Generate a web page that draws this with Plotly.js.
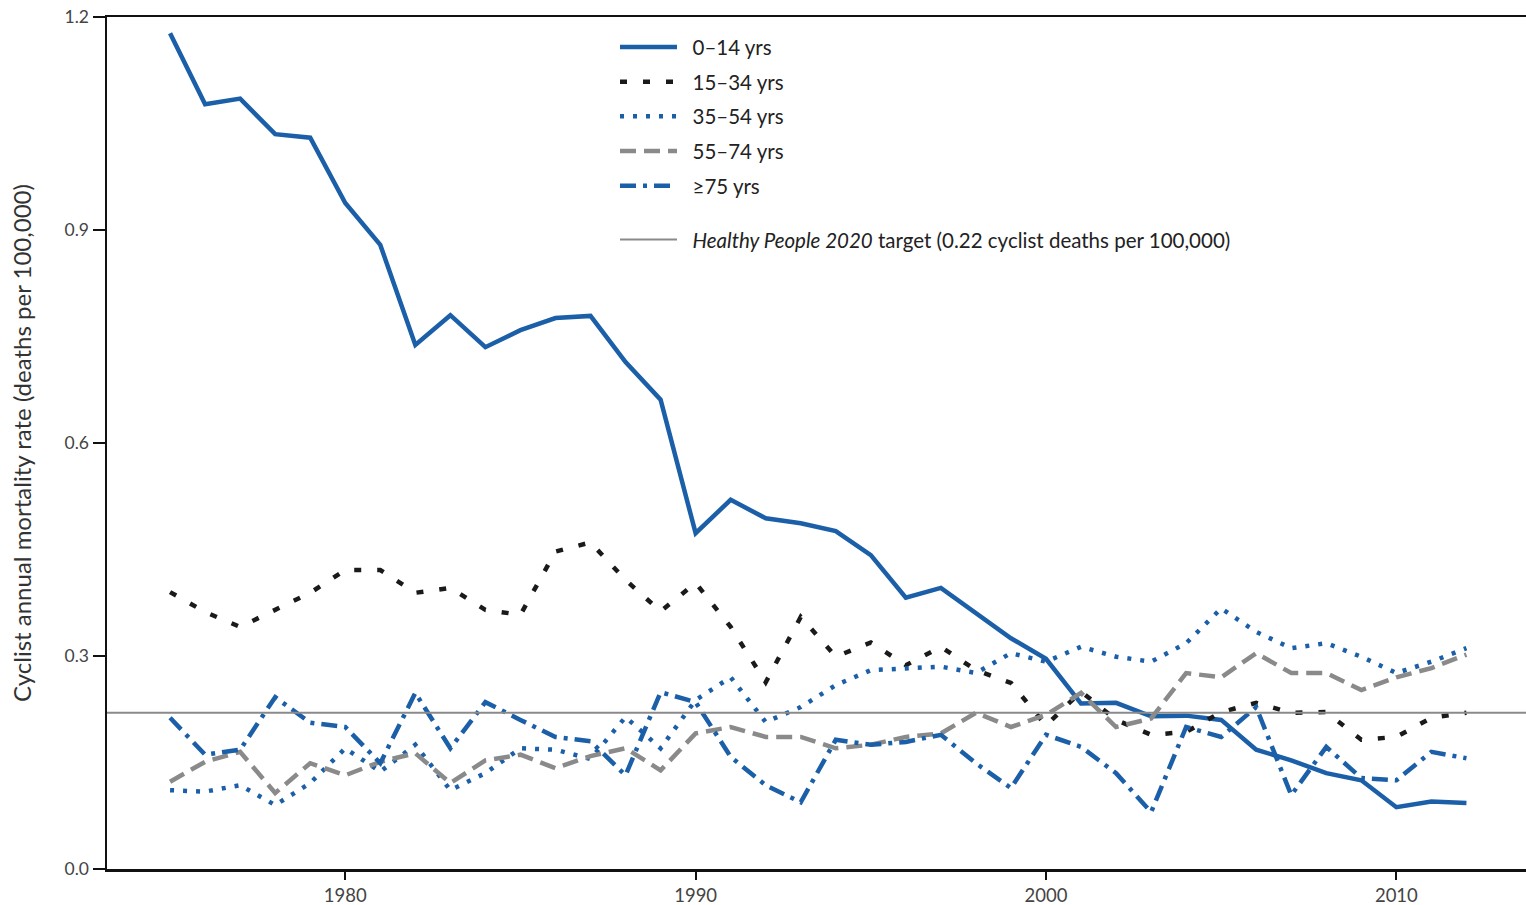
<!DOCTYPE html>
<html>
<head>
<meta charset="utf-8">
<script src="https://cdn.plot.ly/plotly-3.0.1.min.js"></script>
<style>html,body{margin:0;padding:0;background:#fff}#chart{width:1526px;height:905px}</style>
</head>
<body>
<div id="chart"></div>
<script>
const years = [1975,1976,1977,1978,1979,1980,1981,1982,1983,1984,1985,1986,1987,1988,1989,1990,1991,1992,1993,1994,1995,1996,1997,1998,1999,2000,2001,2002,2003,2004,2005,2006,2007,2008,2009,2010,2011,2012];

const age0_14 = [1.177,1.077,1.085,1.035,1.030,0.938,0.879,0.738,0.780,0.735,0.759,0.776,0.779,0.714,0.661,0.473,0.520,0.494,0.487,0.476,0.442,0.382,0.396,0.361,0.325,0.296,0.233,0.234,0.215,0.216,0.210,0.168,0.153,0.135,0.125,0.087,0.095,0.093];

const age15_34 = [0.390,0.362,0.341,0.365,0.389,0.421,0.421,0.389,0.396,0.365,0.358,0.447,0.460,0.407,0.363,0.403,0.341,0.263,0.355,0.299,0.319,0.287,0.313,0.280,0.262,0.202,0.250,0.210,0.189,0.193,0.221,0.234,0.220,0.221,0.182,0.186,0.213,0.220];

const age35_54 = [0.111,0.109,0.118,0.090,0.121,0.170,0.137,0.175,0.111,0.135,0.170,0.168,0.155,0.214,0.170,0.238,0.270,0.207,0.228,0.259,0.280,0.283,0.285,0.276,0.304,0.292,0.313,0.299,0.292,0.318,0.367,0.334,0.311,0.318,0.299,0.276,0.292,0.311];

const age55_74 = [0.123,0.151,0.165,0.107,0.149,0.132,0.151,0.163,0.121,0.153,0.161,0.142,0.159,0.170,0.139,0.191,0.200,0.186,0.186,0.170,0.175,0.186,0.191,0.220,0.200,0.217,0.248,0.200,0.212,0.276,0.270,0.304,0.276,0.276,0.252,0.270,0.283,0.302];

const age75plus = [0.213,0.161,0.168,0.242,0.206,0.200,0.149,0.248,0.170,0.235,0.210,0.186,0.180,0.132,0.249,0.235,0.158,0.118,0.094,0.182,0.175,0.179,0.189,0.149,0.114,0.189,0.172,0.135,0.080,0.200,0.186,0.228,0.104,0.172,0.128,0.125,0.165,0.156];

const targetValue = 0.22;
const targetX = [1973.2, 2013.7];

const seriesNames = ["0–14 yrs","15–34 yrs","35–54 yrs","55–74 yrs","≥75 yrs"];
const targetName = "<i>Healthy People 2020</i> target (0.22 cyclist deaths per 100,000)";
const yTicks = [0.0,0.3,0.6,0.9,1.2];
const xTicks = [1980,1990,2000,2010];

const BLUE = "#1b5fa8";
const GRAY = "#8a8a8a";
const BLACK = "#1a1a1a";
const FONT = "Lato, 'Open Sans', sans-serif";
const PAD = "\u00a0\u00a0";

const traces = [
  {x: years, y: age0_14, name: PAD + seriesNames[0], mode: "lines", line: {color: BLUE, width: 4.5}, legendgroup: "a"},
  {x: years, y: age15_34, name: PAD + seriesNames[1], mode: "lines", line: {color: BLACK, width: 4.5, dash: "7px,16px"}, legendgroup: "b"},
  {x: years, y: age35_54, name: PAD + seriesNames[2], mode: "lines", line: {color: BLUE, width: 4.5, dash: "4px,9px"}, legendgroup: "c"},
  {x: years, y: age55_74, name: PAD + seriesNames[3], mode: "lines", line: {color: GRAY, width: 4.5, dash: "16px,8px"}, legendgroup: "d"},
  {x: years, y: age75plus, name: PAD + seriesNames[4], mode: "lines", line: {color: BLUE, width: 4.5, dash: "16px,7px,4px,7px"}, legendgroup: "e"},
  {x: targetX, y: [targetValue, targetValue], name: PAD + targetName, mode: "lines", line: {color: GRAY, width: 2}, legend: "legend2"}
];

const layout = {
  width: 1526, height: 905,
  margin: {l: 107, r: 0, t: 17, b: 36},
  paper_bgcolor: "#fff", plot_bgcolor: "#fff",
  font: {family: FONT, color: "#333", size: 18},
  showlegend: true,
  xaxis: {
    range: targetX, showgrid: false, zeroline: false,
    showline: true, linecolor: "#111", linewidth: 2.5, mirror: true,
    ticks: "outside", ticklen: 8, tickwidth: 2, tickcolor: "#111",
    tickvals: xTicks, ticktext: xTicks.map(String),
    tickfont: {family: FONT, size: 18.5, color: "#444"}
  },
  yaxis: {
    range: [0, 1.2], showgrid: false, zeroline: false,
    showline: true, linecolor: "#111", linewidth: 2.5,
    ticks: "outside", ticklen: 12, tickwidth: 2, tickcolor: "#111",
    tickvals: yTicks, ticktext: yTicks.map(v => v.toFixed(1)),
    tickfont: {family: FONT, size: 17.5, color: "#444"},
    title: {text: "Cyclist annual mortality rate (deaths per 100,000)", font: {family: FONT, size: 24, color: "#333"}, standoff: 26}
  },
  legend: {
    x: 0.358, y: 0.988, xanchor: "left", yanchor: "top",
    bgcolor: "rgba(0,0,0,0)", borderwidth: 0,
    font: {family: FONT, size: 20.5, color: "#222"},
    tracegroupgap: 5, itemwidth: 57
  },
  legend2: {
    x: 0.358, y: 0.762, xanchor: "left", yanchor: "top",
    bgcolor: "rgba(0,0,0,0)", borderwidth: 0,
    font: {family: FONT, size: 20.5, color: "#222"},
    itemwidth: 57
  }
};

Plotly.newPlot("chart", traces, layout, {displayModeBar: false, staticPlot: true});
</script>
</body>
</html>
